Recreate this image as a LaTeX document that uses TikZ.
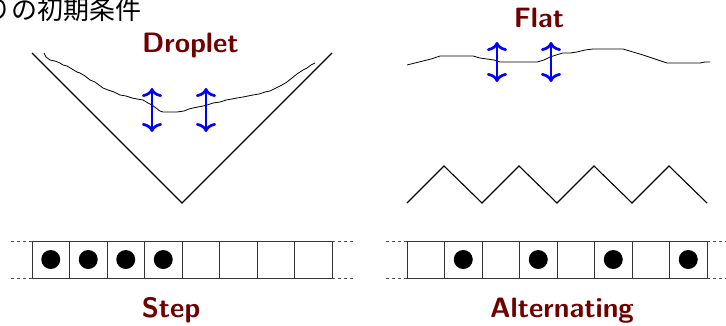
\documentclass[tikz,border=0pt]{standalone}
\usepackage{fontspec}
\newfontfamily\jafont{Noto Sans CJK JP}
\usetikzlibrary{arrows.meta}
\definecolor{labelred}{RGB}{112,0,0}
\definecolor{arrowblue}{RGB}{0,0,255}
\begin{document}
\begin{tikzpicture}[x=1pt,y=-1pt,
  title/.style={font=\fontsize{28}{28}\selectfont\sffamily\bfseries, text=labelred, inner sep=0pt, anchor=base},
  heading/.style={font=\fontsize{26}{26}\selectfont\jafont, inner sep=0pt, anchor=base west},
  wall/.style={line width=1.4pt, line join=miter},
  surface/.style={line width=0.8pt, line join=round},
  flux/.style={draw=arrowblue, line width=2.7pt, {To[length=9pt,width=20pt]}-{To[length=9pt,width=20pt]}},
  cell/.style={draw=black!80, line width=0.9pt, minimum width=37.5pt, minimum height=37pt, inner sep=0pt, outer sep=0pt},
  particle/.style={circle, fill=black, minimum size=19pt, inner sep=0pt},
  lead/.style={draw=black!70, line width=0.8pt, dash pattern=on 3pt off 3pt}
]
\useasboundingbox (0,0) rectangle (726,325);

% slide heading
\node[heading] (head) at (-15,19) {りの初期条件};

% labels
\node[title] (droplet) at (190.5,52) {Droplet};
\node[title] (flat) at (539,27.5) {Flat};
\node[title] (step) at (171,317) {Step};
\node[title] (alt) at (562,317) {Alternating};

% droplet: V-shaped wedge with a rough interface
\draw[wall] (32,53) -- (182,203) -- (332,53);
\draw[surface] (44,53) -- (46,57) -- (50,60) -- (55,61) -- (60,63) -- (63,65) -- (67,66)
  -- (72,69) -- (77,72) -- (80,73) -- (85,76) -- (90,80) -- (95,82) -- (99,85) -- (103,88)
  -- (108,90) -- (114,92) -- (120,95) -- (126,96) -- (132,98) -- (137,99) -- (143,100)
  -- (148,103) -- (152,105) -- (156,108) -- (160,111) -- (163,112) -- (170,112) -- (177,112)
  -- (184,111) -- (189,109) -- (193,108) -- (198,107) -- (203,106) -- (207,105) -- (213,103)
  -- (220,102) -- (226,100) -- (232,99) -- (237,98) -- (243,97) -- (248,96) -- (253,95)
  -- (259,94) -- (265,92) -- (270,91) -- (276,88) -- (282,85) -- (287,82) -- (292,78)
  -- (297,74) -- (303,70) -- (307,68) -- (311,65) -- (315,63);
\coordinate (dA1) at (152,88);  \coordinate (dA2) at (152,132);
\coordinate (dB1) at (206,88);  \coordinate (dB2) at (206,132);
\draw[flux] (dA1) -- (dA2);
\draw[flux] (dB1) -- (dB2);

% flat: rough horizontal interface
\draw[surface] (407,65) -- (415,63) -- (423,61) -- (431,59) -- (440,56) -- (450,56)
  -- (462,56) -- (473,56) -- (480,58) -- (487,59) -- (494,60) -- (500,62) -- (512,62)
  -- (525,62) -- (537,62) -- (544,60) -- (550,57) -- (556,55) -- (563,53) -- (570,53)
  -- (577,52) -- (585,50) -- (593,49) -- (603,49) -- (613,49) -- (623,49) -- (633,52)
  -- (643,55) -- (655,59) -- (667,63) -- (678,63) -- (690,63) -- (700,63) -- (705,62) -- (710,62);
\coordinate (fA1) at (497,42);  \coordinate (fA2) at (497,82);
\coordinate (fB1) at (551,42);  \coordinate (fB2) at (551,82);
\draw[flux] (fA1) -- (fA2);
\draw[flux] (fB1) -- (fB2);

% alternating: zigzag profile
\draw[wall, line width=1.1pt] (407,203) -- (444,166) -- (482,203) -- (519,166) -- (557,203)
  -- (594,166) -- (632,203) -- (669,166) -- (707,203);

% step: lattice with the left half occupied
\foreach \i in {1,...,8}
  \node[cell] (s\i) at ({32+37.5*(\i-0.5)},259.5) {};
\foreach \i in {1,...,4}
  \node[particle] (sp\i) at (s\i) {};
\coordinate (sLt) at (8,241);   \coordinate (sLb) at (8,278);
\coordinate (sRt) at (354,241); \coordinate (sRb) at (354,278);
\draw[lead] (s1.north west) -- (sLt);
\draw[lead] (s1.south west) -- (sLb);
\draw[lead] (s8.north east) -- (sRt);
\draw[lead] (s8.south east) -- (sRb);

% alternating: every second site occupied
\foreach \i in {1,...,8}
  \node[cell] (a\i) at ({407+37.5*(\i-0.5)},259.5) {};
\foreach \i in {2,4,6,8}
  \node[particle] (ap\i) at (a\i) {};
\coordinate (aLt) at (383,241); \coordinate (aLb) at (383,278);
\coordinate (aRt) at (728,241); \coordinate (aRb) at (728,278);
\draw[lead] (a1.north west) -- (aLt);
\draw[lead] (a1.south west) -- (aLb);
\draw[lead] (a8.north east) -- (aRt);
\draw[lead] (a8.south east) -- (aRb);
\end{tikzpicture}
\end{document}
